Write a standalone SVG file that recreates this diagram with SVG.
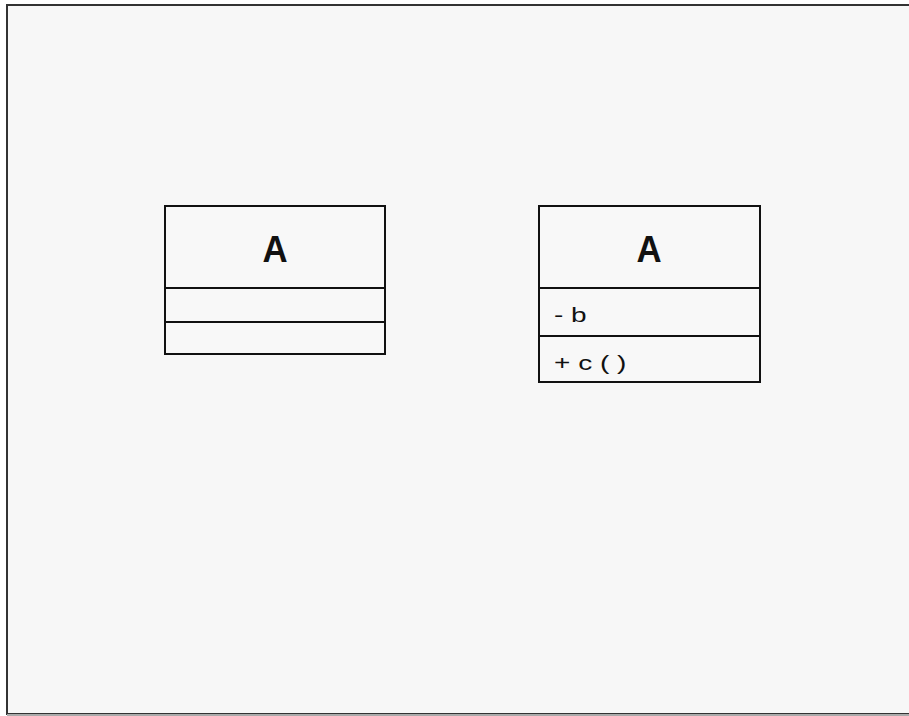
<svg xmlns="http://www.w3.org/2000/svg" width="909" height="716" viewBox="0 0 909 716">
<style>
.box{fill:#f8f8f8;stroke:#111;stroke-width:2}
.ln{stroke:#111;stroke-width:2}
.t{font-family:"Liberation Sans",Arial,sans-serif;fill:#111}
.title{font-size:37px;font-weight:bold;text-anchor:middle}
.m{font-size:20px}
</style>
<rect x="0" y="0" width="909" height="716" fill="#ffffff"/>
<rect x="7" y="5" width="910" height="709" fill="#f7f7f7" stroke="#333" stroke-width="2"/>
<line x1="7" y1="715" x2="909" y2="715" stroke="#aaa" stroke-width="2"/>
<g id="classA1">
<rect class="box" x="165" y="206" width="220" height="148"/>
<line class="ln" x1="165" y1="288" x2="385" y2="288"/>
<line class="ln" x1="165" y1="322" x2="385" y2="322"/>
<text class="t title" transform="translate(275,262) scale(0.94,1)" x="0" y="0">A</text>
</g>
<g id="classA2">
<rect class="box" x="539" y="206" width="221" height="176"/>
<line class="ln" x1="539" y1="288" x2="760" y2="288"/>
<line class="ln" x1="539" y1="336" x2="760" y2="336"/>
<text class="t title" transform="translate(649,262) scale(0.94,1)" x="0" y="0">A</text>
<text class="t m" transform="translate(554,322) scale(1.4,1)" x="0" y="0" xml:space="preserve">- b</text>
<text class="t m" transform="translate(554,370) scale(1.4,1)" x="0" y="0" xml:space="preserve">+ c ( )</text>
</g>
<g id="connectors"/>
</svg>
